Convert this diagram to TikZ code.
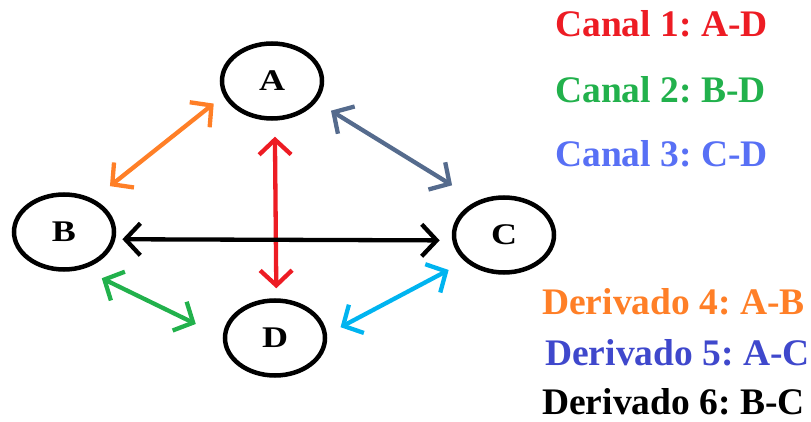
\documentclass[tikz,border=0pt]{standalone}
\usepackage{fontspec}
\setmainfont{Liberation Serif}
\usetikzlibrary{arrows.meta,shapes.geometric}
\frenchspacing
\definecolor{cred}{RGB}{237,28,36}
\definecolor{cgreen}{RGB}{34,177,76}
\definecolor{cblue}{RGB}{88,112,245}
\definecolor{corange}{RGB}{255,127,39}
\definecolor{cdblue}{RGB}{63,72,204}
\definecolor{cslate}{RGB}{85,107,141}
\definecolor{ccyan}{RGB}{0,180,240}
\newcommand{\stname}[1]{\scalebox{1.2}[1]{#1}}
\tikzset{
  station/.style={draw, line width=4.5pt, ellipse, minimum width=100pt, minimum height=75pt, inner sep=0pt,
    font=\fontsize{30}{32}\selectfont\bfseries},
  link/.style={line width=4.3pt, line cap=round, {Straight Barb[length=15pt,width=32pt]}-{Straight Barb[length=15pt,width=32pt]}},
  legend/.style={anchor=base west, inner sep=0pt, text depth=0pt, font=\fontsize{37.5}{40}\selectfont\bfseries}
}
\begin{document}
\begin{tikzpicture}[x=1pt,y=-1pt]
\useasboundingbox (0,0) rectangle (811,422);
\node[station] (A) at (272,81) {\stname{A}};
\node[station] (B) at (64,232) {\stname{B}};
\node[station] (C) at (504,235) {\stname{C}};
\node[station] (D) at (275,338) {\stname{D}};

\draw[link, corange, shorten <=12.5pt, shorten >=21pt] (A.197.6) -- (B.48.7);
\draw[link, cslate, shorten <=17pt, shorten >=29.6pt] (A.335) -- (C.128.9);
\draw[link, cred, shorten <=16pt, shorten >=10pt] (A.274) -- (D.88);
\draw[link, black, shorten <=7pt, shorten >=12.6pt] (B.352) -- (C.186);
\draw[link, cgreen, shorten <=21pt, shorten >=30pt] (B.297.4) -- (D.179.3);
\draw[link, ccyan, shorten <=18.4pt, shorten >=15.3pt] (C.214.4) -- (D.4.3);

\node[legend, text=cred] (l1) at (555,37) {Canal 1: A-D};
\node[legend, text=cgreen] (l2) at (555,103) {Canal 2: B-D};
\node[legend, text=cblue] (l3) at (555,167) {Canal 3: C-D};
\node[legend, text=corange] (l4) at (542,314) {Derivado 4: A-B};
\node[legend, text=cdblue] (l5) at (545,365) {Derivado 5: A-C};
\node[legend, text=black] (l6) at (542,414) {Derivado 6: B-C};
\end{tikzpicture}
\end{document}
